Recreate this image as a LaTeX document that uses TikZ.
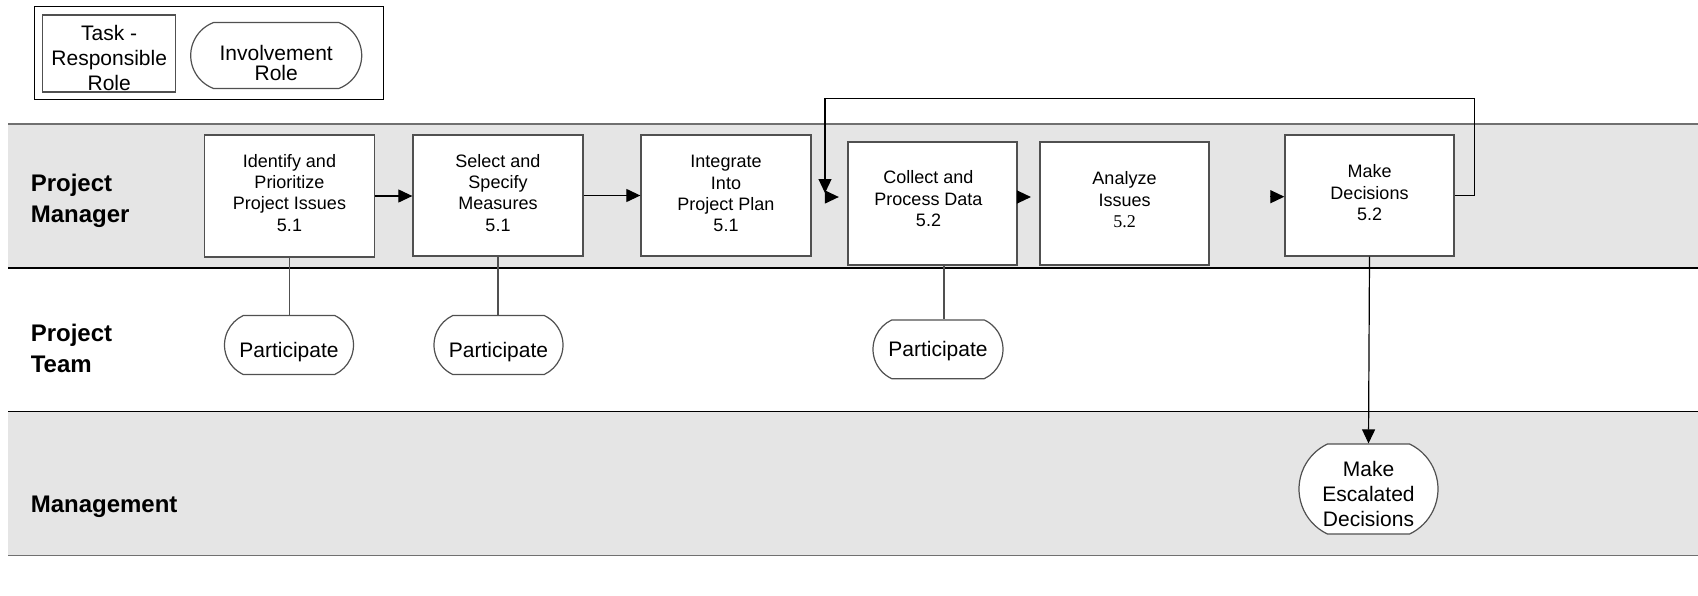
\documentclass[tikz,border=0pt]{standalone}
\usepackage{fontspec}
\setmainfont{Liberation Sans}
\newfontfamily\serifnum{Liberation Serif}
\usetikzlibrary{arrows.meta,calc,shapes.misc}
\definecolor{lanegray}{HTML}{E5E5E5}
\definecolor{boxgray}{HTML}{505050}
\definecolor{edgegray}{HTML}{707070}
\begin{document}
\begin{tikzpicture}[x=1pt,y=-1pt,
  laneline/.style={line width=1.3pt, draw=black},
  laneedge/.style={line width=1.5pt, draw=edgegray},
  lanelabel/.style={anchor=west, align=left, font=\fontsize{24}{31}\selectfont\bfseries, inner sep=0pt},
  taskbox/.style={draw=boxgray, line width=1.3pt, fill=white, minimum width=170pt, minimum height=121pt, inner sep=0pt},
  tasktext/.style={align=center, inner sep=0pt, font=\fontsize{18}{21.3}\selectfont},
  role/.style={rounded rectangle, draw=boxgray, line width=1.2pt, fill=white, inner sep=0pt},
  roletext/.style={align=center, inner sep=0pt, font=\fontsize{21}{25}\selectfont},
  flow/.style={line width=1.2pt, draw=black, -{Triangle[length=14pt,width=13pt]}},
  link/.style={line width=1.2pt, draw=boxgray},
]
\useasboundingbox (0,0) rectangle (1698,595);
\fill[white] (0,0) rectangle (1698,595);
% lanes
\fill[lanegray] (8.4,124) rectangle (1698,268);
\fill[lanegray] (8.4,411.7) rectangle (1698,555.7);
\draw[laneedge] (8.4,124) -- (1698,124);
\draw[laneline] (8.4,268) -- (1698,268);
\draw[laneline] (8.4,411.7) -- (1698,411.7);
\draw[laneedge] (8.4,555.7) -- (1698,555.7);
\node[lanelabel] (lpm) at (30.6,201) {Project\\Manager};
\node[lanelabel] (lpt) at (30.6,348.5) {Project\\Team};
\node[lanelabel] (lmg) at (30.6,507) {Management};
% legend
\node[draw=black, line width=1pt, minimum width=349pt, minimum height=93pt, inner sep=0pt] (legend) at (208.5,52.5) {};
\node[taskbox, minimum width=133pt, minimum height=77pt] (lt) at (109.2,53.5) {};
\node[roletext] (lttext) at (109.2,57.5) {Task -\\Responsible\\Role};
\node[role, minimum width=171pt, minimum height=66pt, rounded rectangle arc length=139] (li) at (276.2,55.5) {};
\node[roletext, font=\fontsize{21}{19.5}\selectfont] (litext) at (276.2,62.8) {Involvement\\Role};
% tasks
\node[taskbox, minimum height=122pt] (b1) at (289.5,196) {};
\node[taskbox] (b2) at (498,195.5) {};
\node[taskbox] (b3) at (726,195.5) {};
\node[taskbox, minimum width=169pt, minimum height=123pt] (b4) at (932.5,203.5) {};
\node[taskbox, minimum width=169pt, minimum height=123pt] (b5) at (1124.5,203.5) {};
\node[taskbox, minimum width=169pt] (b6) at (1369.5,195.5) {};
\node[tasktext] (b1t) at (289.5,192.7) {Identify and\\Prioritize\\Project Issues\\5.1};
\node[tasktext] (b2t) at (498,192.7) {Select and\\Specify\\Measures\\5.1};
\node[tasktext] (b3t) at (726,193.8) {Integrate\\Into\\Project Plan\\5.1};
\node[tasktext] (b4t) at (928.5,198.7) {Collect and\\Process Data\\5.2};
\node[tasktext] (b5t) at (1124.5,199.8) {Analyze\\Issues\\{\serifnum 5.2}};
\node[tasktext] (b6t) at (1369.5,192.7) {Make\\Decisions\\5.2};
% roles
\node[role, minimum width=129pt, minimum height=59pt, rounded rectangle arc length=130] (p1) at (289,345) {};
\node[role, minimum width=129pt, minimum height=59pt, rounded rectangle arc length=130] (p2) at (498.5,345) {};
\node[role, minimum width=130pt, minimum height=58.7pt, rounded rectangle arc length=130] (p3) at (938,349.3) {};
\node[role, minimum width=139pt, minimum height=90pt, rounded rectangle arc length=129] (esc) at (1368.5,489) {};
\node[roletext] (p1t) at (289,351.8) {Participate};
\node[roletext] (p2t) at (498.5,351.8) {Participate};
\node[roletext] (p3t) at (938,351.5) {Participate};
\node[roletext] (esct) at (1368.5,493.5) {Make\\Escalated\\Decisions};
% links
\draw[link] (b1.south) -- (b1.south |- p1.north);
\draw[link] (b2.south) -- (b2.south |- p2.north);
\draw[link] ([xshift=6pt]p3.north |- b4.south) -- ([xshift=6pt]p3.north);
% flows
\draw[flow] (b1.east) -- (b1.east -| b2.west);
\draw[flow] (b2.east) -- (b2.east -| b3.west);
\coordinate (h34) at (826.8,197);
\draw[flow, shorten >=8.5pt] (h34) -- (h34 -| b4.west);
\draw[flow, shorten >=8.4pt] ([yshift=6.5pt]b4.east) -- ([yshift=6.5pt]b4.east -| b5.west);
\coordinate (h56) at (1270,196.7);
\draw[flow] (h56) -- (h56 -| b6.west);
\coordinate (lp1) at (1474.3,98.3);
\coordinate (lpend) at (825,193);
\draw[flow] (b6.east) -- (b6.east -| lp1) -- (lp1) -- (lp1 -| lpend) -- (lpend);
\draw[flow] (b6.south) -- (esc.north);
\end{tikzpicture}
\end{document}
